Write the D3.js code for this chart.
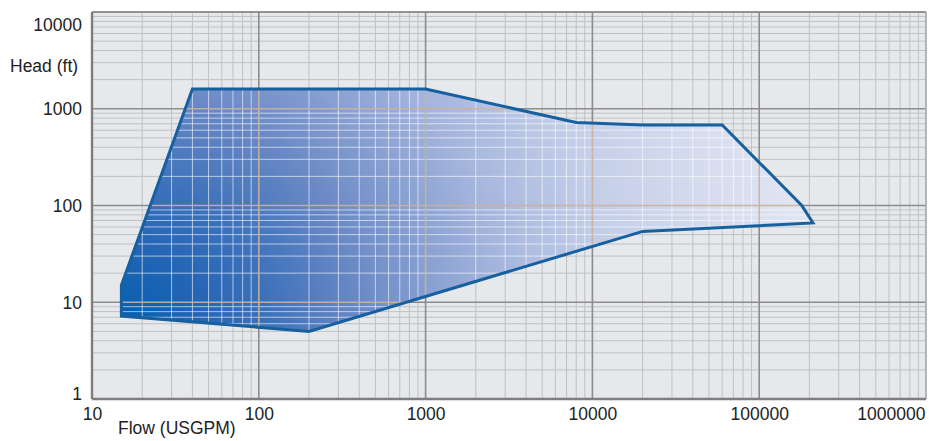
<!DOCTYPE html>
<html>
<head>
<meta charset="utf-8">
<script src="https://cdn.jsdelivr.net/npm/d3@7"></script>
<style>
  body { margin: 0; background: #fff; }
  svg text { font-family: "Liberation Sans", Arial, sans-serif; fill: #222; }
</style>
</head>
<body>
<div id="chart"></div>
<script>
// envelope outline (flow in USGPM, head in ft)
var flow = [15, 15, 40, 1000, 8000, 20000, 60000, 180000, 210000, 20000, 200];
var head = [7.2, 15, 1600, 1600, 720, 680, 680, 100, 66, 54, 5];

var xTicks = [10, 100, 1000, 10000, 100000, 1000000];
var yTicks = [1, 10, 100, 1000, 10000];

var width = 929, height = 441;
var pLeft = 92, pRight = 926, pTop = 12, pBottom = 399;

var x = d3.scaleLog().domain([10, 1e6]).range([pLeft, pRight]);
var y = d3.scaleLog().domain([1, 1e4]).range([pBottom, pTop]);

var svg = d3.select("#chart").append("svg")
  .attr("width", width)
  .attr("height", height);

var defs = svg.append("defs");
var grad = defs.append("radialGradient")
  .attr("id", "fillGrad")
  .attr("gradientUnits", "userSpaceOnUse")
  .attr("cx", 118).attr("cy", 330).attr("r", 760);
[[0, "#005fae"], [0.12, "#2766b6"], [0.2, "#3d72bb"], [0.31, "#6787c4"],
 [0.5, "#a3b4dc"], [0.65, "#c4cee8"], [0.82, "#d8deef"], [1, "#e8ebf4"]]
  .forEach(function (s) {
    grad.append("stop").attr("offset", s[0]).attr("stop-color", s[1]);
  });

var pts = flow.map(function (f, i) { return [x(f), y(head[i])]; });
defs.append("clipPath").attr("id", "env")
  .append("polygon").attr("points", pts.join(" "));

svg.append("rect")
  .attr("x", pLeft).attr("y", pTop)
  .attr("width", pRight - pLeft).attr("height", pBottom - pTop)
  .attr("fill", "#e6e8eb");

function isMajor(v) { return Math.abs(Math.log10(v) - Math.round(Math.log10(v))) < 1e-9; }

function drawGrid(g, minorColor, majorColor, minorOp, majorOp) {
  var xs = x.ticks(), ys = y.ticks();
  g.selectAll(".vx").data(xs.filter(function (d) { return !isMajor(d); })).enter()
    .append("line")
    .attr("x1", function (d) { return x(d); }).attr("x2", function (d) { return x(d); })
    .attr("y1", pTop).attr("y2", pBottom)
    .attr("stroke", minorColor).attr("stroke-opacity", minorOp).attr("stroke-width", 1);
  g.selectAll(".hy").data(ys.filter(function (d) { return !isMajor(d); })).enter()
    .append("line")
    .attr("y1", function (d) { return y(d); }).attr("y2", function (d) { return y(d); })
    .attr("x1", pLeft).attr("x2", pRight)
    .attr("stroke", minorColor).attr("stroke-opacity", minorOp).attr("stroke-width", 1);
  g.selectAll(".mx").data(xTicks).enter()
    .append("line")
    .attr("x1", function (d) { return x(d); }).attr("x2", function (d) { return x(d); })
    .attr("y1", pTop).attr("y2", pBottom)
    .attr("stroke", majorColor).attr("stroke-opacity", majorOp).attr("stroke-width", 1.6);
  g.selectAll(".my").data(yTicks).enter()
    .append("line")
    .attr("y1", function (d) { return y(d); }).attr("y2", function (d) { return y(d); })
    .attr("x1", pLeft).attr("x2", pRight)
    .attr("stroke", majorColor).attr("stroke-opacity", majorOp).attr("stroke-width", 1.6);
}

drawGrid(svg.append("g"), "#bfc1c4", "#8c8c8c", 1, 1);

svg.append("polygon")
  .attr("points", pts.join(" "))
  .attr("fill", "url(#fillGrad)");

drawGrid(svg.append("g").attr("clip-path", "url(#env)"), "#ffffff", "#c9b39e", 0.6, 0.9);

svg.append("polygon")
  .attr("points", pts.join(" "))
  .attr("fill", "none")
  .attr("stroke", "#17609f")
  .attr("stroke-width", 3)
  .attr("stroke-linejoin", "miter");

// frame
svg.append("line").attr("x1", pLeft).attr("x2", pRight).attr("y1", pTop).attr("y2", pTop)
  .attr("stroke", "#8c8c8c").attr("stroke-width", 1.6);
svg.append("line").attr("x1", pRight).attr("x2", pRight).attr("y1", pTop).attr("y2", pBottom)
  .attr("stroke", "#bfc1c4").attr("stroke-width", 1.2);
svg.append("line").attr("x1", pLeft).attr("x2", pRight).attr("y1", pBottom).attr("y2", pBottom)
  .attr("stroke", "#7e7e7e").attr("stroke-width", 2.4);
svg.append("line").attr("x1", pLeft).attr("x2", pLeft).attr("y1", pTop).attr("y2", pBottom)
  .attr("stroke", "#7e7e7e").attr("stroke-width", 2.4);

// axes labels
var yAxis = svg.append("g")
  .attr("transform", "translate(" + pLeft + ",0)")
  .call(d3.axisLeft(y).tickValues(yTicks).tickFormat(d3.format("d")).tickSize(0).tickPadding(10));
yAxis.select(".domain").remove();
yAxis.selectAll("text")
  .style("font-size", "17.5px")
  .attr("dy", function (d) { return d === 10000 ? "1.05em" : (d === 1 ? "0.05em" : "0.34em"); });

var xAxis = svg.append("g")
  .attr("transform", "translate(0," + pBottom + ")")
  .call(d3.axisBottom(x).tickValues(xTicks).tickFormat(d3.format("d")).tickSize(0).tickPadding(9));
xAxis.select(".domain").remove();
xAxis.selectAll("text")
  .style("font-size", "17.5px")
  .attr("text-anchor", function (d) { return d === 1e6 ? "end" : "middle"; })
  .attr("x", function (d) { return d === 1e6 ? -1 : 0; });

svg.append("text")
  .attr("x", 10).attr("y", 72)
  .style("font-size", "17.5px")
  .text("Head (ft)");

svg.append("text")
  .attr("x", 118).attr("y", 434)
  .style("font-size", "17.5px")
  .text("Flow (USGPM)");
</script>
</body>
</html>
